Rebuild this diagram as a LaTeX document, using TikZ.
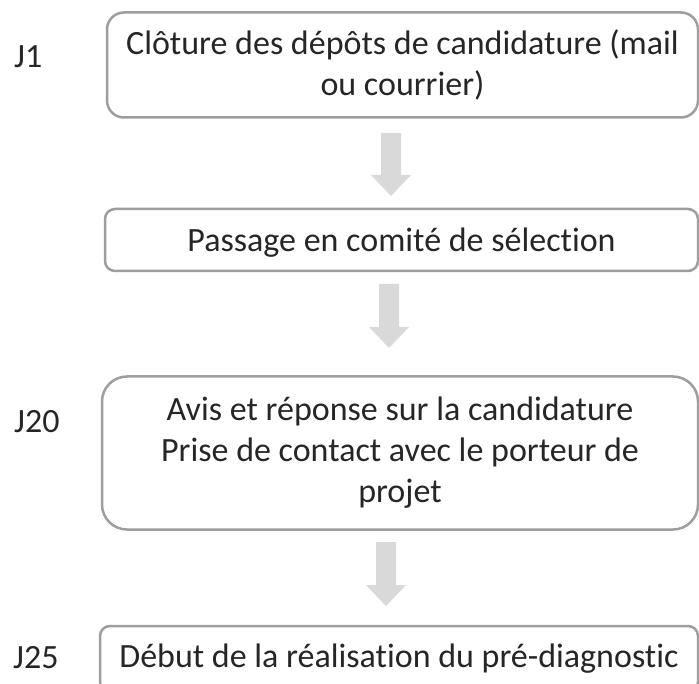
\documentclass[tikz,border=0pt]{standalone}
\usepackage{fontspec}
\setmainfont{Carlito}[Ligatures={NoCommon}]
\usetikzlibrary{calc}
\definecolor{txt}{HTML}{262626}
\definecolor{bord}{HTML}{9E9E9E}
\definecolor{arr}{HTML}{D9D9D9}
\newcommand\blockarrow[2]{%
  \fill[arr] let \p1=(#1), \p2=(#2) in
    (\x1-10pt,\y1) -- (\x1+10pt,\y1) -- (\x1+10pt,\y2+21pt) -- (\x1+20pt,\y2+21pt)
    -- (\x1,\y2) -- (\x1-20pt,\y2+21pt) -- (\x1-10pt,\y2+21pt) -- cycle;}
\begin{document}
\begin{tikzpicture}[x=1pt,y=-1pt,
  stepbox/.style={draw=bord, line width=2.5pt, text=txt, align=center, inner sep=0pt,
    font=\fontsize{34}{41}\selectfont},
  jlabel/.style={anchor=base west, text=txt, inner sep=0pt, font=\fontsize{34}{41}\selectfont}]
\useasboundingbox (0,0) rectangle (699,684);
\clip (0,0) rectangle (699,684);
\fill[white] (0,0) rectangle (699,684);

\node[stepbox, rounded corners=17pt, minimum width=591pt, minimum height=105pt] (b1) at (402.5,65)
  {Clôture des dépôts de candidature (mail\\ou courrier)};
\node[stepbox, rounded corners=10pt, minimum width=593pt, minimum height=62pt,
  text height=30pt, text depth=7pt] (b2) at (401.5,240)
  {Passage en comité de sélection};
\node[stepbox, rounded corners=25pt, minimum width=596pt, minimum height=153pt] (b3) at (400,453)
  {Avis et réponse sur la candidature\\Prise de contact avec le porteur de\\projet};
\node[stepbox, rounded corners=10pt, minimum width=598pt, minimum height=66pt] (b4) at (399,659)
  {Début de la réalisation du pré-diagnostic};

\node[jlabel] (j1) at (14,68) {J1};
\node[jlabel] (j20) at (14,432) {J20};
\node[jlabel] (j25) at (13,668) {J25};

\coordinate (a1s) at (391,133);
\coordinate (a1e) at (391,196);
\coordinate (a2s) at (389,284);
\coordinate (a2e) at (389,348);
\coordinate (a3s) at (386,542);
\coordinate (a3e) at (386,606);
\blockarrow{a1s}{a1e}
\blockarrow{a2s}{a2e}
\blockarrow{a3s}{a3e}
\end{tikzpicture}
\end{document}
